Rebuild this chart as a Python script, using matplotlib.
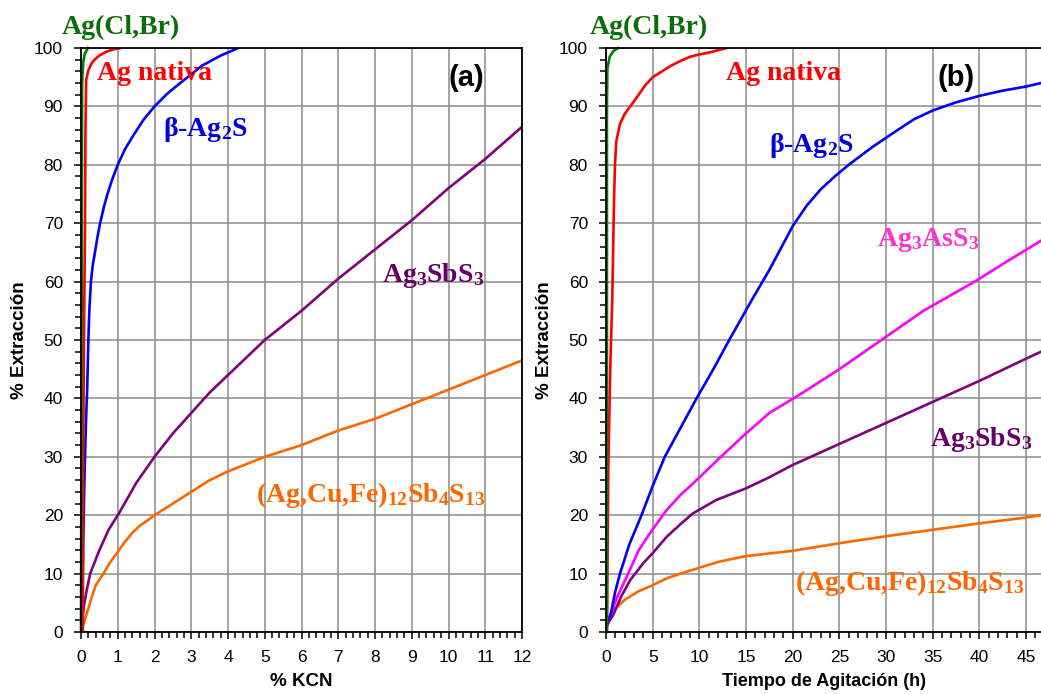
import numpy as np
import matplotlib
matplotlib.use("Agg")
import matplotlib.pyplot as plt
from matplotlib.ticker import MultipleLocator

plt.rcParams["font.family"] = "Liberation Sans"
plt.rcParams["mathtext.fontset"] = "custom"
plt.rcParams["mathtext.rm"] = "Liberation Serif:bold"
plt.rcParams["mathtext.it"] = "Liberation Serif:bold"
plt.rcParams["mathtext.bf"] = "Liberation Serif:bold"

# ---- panel (a): % KCN ----
a_green_x = [0.0, 0.02, 0.03, 0.06, 0.10, 0.19]
a_green_y = [0, 60, 94, 97.5, 99, 100]
a_red_x = [0.05, 0.06, 0.08, 0.11, 0.12, 0.14, 0.2, 0.3, 0.4, 0.5, 0.7, 0.9, 1.08]
a_red_y = [0, 30, 50, 70, 85, 94.5, 96.2, 97.5, 98.2, 98.7, 99.4, 99.8, 100]
a_blue_x = [0.04, 0.06, 0.09, 0.13, 0.17, 0.20, 0.23, 0.27, 0.32, 0.38, 0.45, 0.52, 0.62, 0.72,
            0.85, 1.0, 1.2, 1.42, 1.7, 2.0, 2.35, 2.7, 3.3, 3.8, 4.28]
a_blue_y = [6, 15, 25, 35, 42, 50, 55.5, 60, 62.8, 65, 67.7, 70, 72.7, 75,
            77.5, 80, 82.7, 85, 87.7, 90, 92.2, 94, 97, 98.7, 100]
a_purple_x = [0.04, 0.08, 0.15, 0.25, 0.5, 0.75, 1.05, 1.5, 2.0, 2.5, 3.0, 3.5, 4.0, 5.0,
              6.0, 7.0, 8.0, 9.0, 10.0, 11.0, 12.0]
a_purple_y = [2.5, 4.5, 7, 10, 14, 17.5, 20.5, 25.5, 30, 34, 37.5, 41, 44, 50,
              55, 60.5, 65.5, 70.5, 76, 81, 86.5]
a_orange_x = [0.0, 0.1, 0.24, 0.4, 0.61, 0.8, 1.0, 1.2, 1.4, 1.6, 1.83, 2.0, 2.5, 3.0, 3.5, 4.0,
              5.0, 6.0, 7.0, 8.0, 9.0, 10.0, 11.0, 12.0]
a_orange_y = [0, 2, 4.9, 8, 10, 12, 13.7, 15.5, 17, 18.2, 19.2, 20, 22, 24, 26, 27.5,
              30, 32, 34.5, 36.5, 39, 41.5, 44, 46.5]

# ---- panel (b): Tiempo de agitación (h) ----
b_green_x = [0.1, 0.1, 0.15, 0.4, 0.8, 1.3]
b_green_y = [0, 90, 96.5, 98.5, 99.5, 100]
b_red_x = [0.1, 0.15, 0.25, 0.45, 0.67, 0.86, 0.96, 1.1, 1.5, 2.0, 2.6, 3.5, 4.2, 5.0, 6.0,
           7.0, 8.0, 9.0, 10.0, 11.0, 12.9]
b_red_y = [0, 10, 28, 45, 57, 74, 80, 84, 87, 88.7, 90, 92, 93.6, 95, 96,
           97, 97.8, 98.5, 98.9, 99.2, 100]
b_blue_x = [0, 0.5, 1.0, 1.5, 2.5, 3.8, 5.0, 6.3, 8.0, 9.7, 11.5, 13.2, 15.6, 17.5, 20,
            21.5, 23, 24.5, 26, 28.5, 31, 33, 35, 37.5, 40, 42.5, 45, 46.6]
b_blue_y = [1, 3, 7, 10, 15, 20, 25, 30, 35, 40, 45, 50, 56.8, 62, 69.5,
            73, 75.8, 78, 80, 83, 85.7, 87.8, 89.3, 90.7, 91.8, 92.7, 93.4, 94]
b_magenta_x = [0, 0.5, 1.2, 2.4, 3.5, 4.7, 6.5, 8.0, 9.7, 12.3, 15, 17.5, 20.7, 25, 29.5,
               34, 39.5, 43, 46.6]
b_magenta_y = [1, 3, 6, 10.1, 14, 16.9, 20.9, 23.5, 26, 30, 34, 37.5, 40.6, 45, 50,
               55, 60, 63.5, 67]
b_purple_x = [0, 0.8, 1.6, 2.6, 4.0, 5.0, 6.5, 8.0, 9.3, 11.8, 15, 17.5, 20, 25, 30, 35, 40, 45, 46.6]
b_purple_y = [1, 3, 6, 8.9, 11.8, 13.5, 16.3, 18.5, 20.3, 22.6, 24.6, 26.5, 28.6, 32.2, 35.8,
              39.4, 43, 46.8, 48]
b_orange_x = [0, 0.5, 1.0, 2.0, 3.5, 5.0, 6.5, 8.0, 10, 12, 15, 20, 25, 30, 35, 40, 45, 46.6]
b_orange_y = [0.5, 2.5, 4, 5.5, 7, 8, 9.2, 10, 11, 12, 13, 13.9, 15.2, 16.4, 17.5, 18.6, 19.6, 20]

GREEN, RED, BLUE, MAG, PURP, ORNG = "#008000", "#ff0000", "#0000ff", "#ff00ff", "#800080", "#ff6600"
LW = 1.9

fig = plt.figure(figsize=(10.41, 6.94), dpi=100)
ax1 = fig.add_axes([81 / 1041, 62 / 694, 441 / 1041, 584 / 694])
ax2 = fig.add_axes([606 / 1041, 62 / 694, 435 / 1041, 584 / 694])


def style(ax, xmax, xmaj, xmin):
    ax.set_xlim(0, xmax)
    ax.set_ylim(0, 100)
    ax.xaxis.set_major_locator(MultipleLocator(xmaj))
    ax.xaxis.set_minor_locator(MultipleLocator(xmin))
    ax.yaxis.set_major_locator(MultipleLocator(10))
    ax.yaxis.set_minor_locator(MultipleLocator(2))
    ax.grid(True, which="major", color="#8c8c8c", lw=1.1)
    ax.set_axisbelow(True)
    ax.tick_params(which="both", direction="out", width=1.1, labelsize=12.5, color="black")
    ax.tick_params(which="major", length=5, pad=8)
    ax.tick_params(which="minor", length=4)
    for s in ax.spines.values():
        s.set_linewidth(1.3)
        s.set_color("black")
    ax.set_ylabel("% Extracción", fontsize=13.5, fontweight="bold", labelpad=4)


style(ax1, 12, 1, 0.2)
style(ax2, 46.6, 5, 1)
ax2.spines["right"].set_visible(False)
ax1.set_xlabel("% KCN", fontsize=13.5, fontweight="bold", labelpad=6)
ax2.set_xlabel("Tiempo de Agitación (h)", fontsize=13, fontweight="bold", labelpad=6)

ax1.plot(a_orange_x, a_orange_y, color=ORNG, lw=LW)
ax1.plot(a_purple_x, a_purple_y, color=PURP, lw=LW)
ax1.plot(a_blue_x, a_blue_y, color=BLUE, lw=LW)
ax1.plot(a_red_x, a_red_y, color=RED, lw=LW)
ax1.plot(a_green_x, a_green_y, color=GREEN, lw=LW, clip_on=False)

ax2.plot(b_orange_x, b_orange_y, color=ORNG, lw=LW)
ax2.plot(b_purple_x, b_purple_y, color=PURP, lw=LW)
ax2.plot(b_magenta_x, b_magenta_y, color=MAG, lw=LW)
ax2.plot(b_blue_x, b_blue_y, color=BLUE, lw=LW)
ax2.plot(b_red_x, b_red_y, color=RED, lw=LW)
ax2.plot(b_green_x, b_green_y, color=GREEN, lw=LW, clip_on=False)

serif = dict(family="Liberation Serif", fontweight="bold", fontsize=20)


def lab(x, y, s, c, **kw):
    fig.text(x / 1041, 1 - y / 694, s, color=c, va="center", ha="left", **serif, **kw)


lab(62, 27, "Ag(Cl,Br)", "#0a6e0a")
lab(97, 73, "Ag nativa", RED)
lab(163, 129, "β-Ag$_2$S", "#0000dd")
lab(382, 276, "Ag$_3$SbS$_3$", "#660066")
lab(256, 495, "(Ag,Cu,Fe)$_{12}$Sb$_4$S$_{13}$", ORNG)

lab(590, 27, "Ag(Cl,Br)", "#0a6e0a")
lab(726, 73, "Ag nativa", RED)
lab(769, 145, "β-Ag$_2$S", "#0000dd")
lab(877, 240, "Ag$_3$AsS$_3$", "#ff33cc")
lab(930, 440, "Ag$_3$SbS$_3$", "#660066")
lab(795, 583, "(Ag,Cu,Fe)$_{12}$Sb$_4$S$_{13}$", ORNG)

fig.text(466 / 1041, 1 - 78 / 694, "(a)", fontsize=21, fontweight="bold", ha="center", va="center")
fig.text(956 / 1041, 1 - 78 / 694, "(b)", fontsize=21, fontweight="bold", ha="center", va="center")

fig.savefig("out.png", dpi=100)
